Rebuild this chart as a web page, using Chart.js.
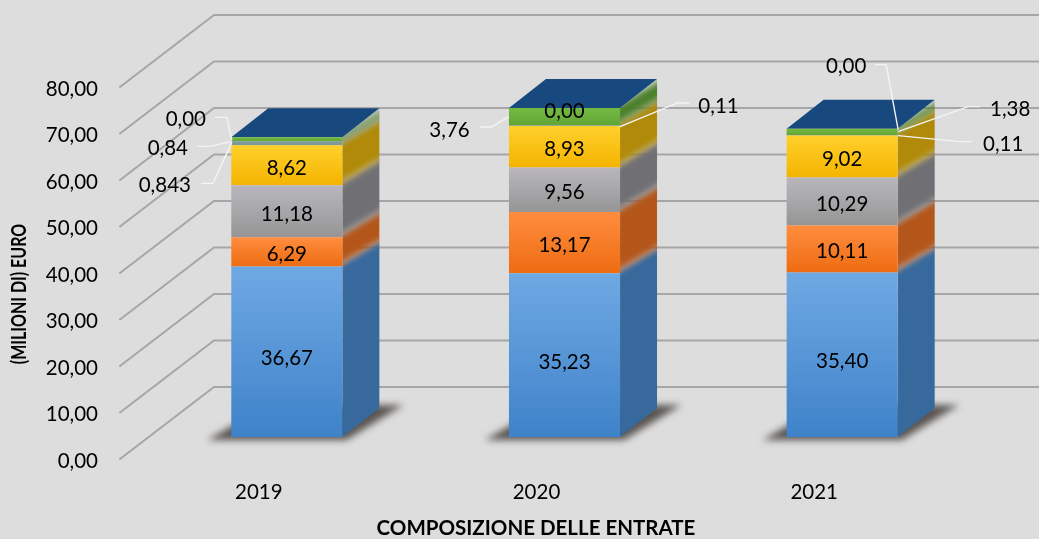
<!DOCTYPE html>
<html><head><meta charset="utf-8">
<style>html,body{margin:0;padding:0;background:#dddddd}canvas{display:block;filter:blur(0.45px)}</style>
<script src="https://cdn.jsdelivr.net/npm/chart.js@4/dist/chart.umd.min.js"></script>
</head><body><canvas id="c" width="1039" height="539"></canvas>
<script>
const categories = ['2019','2020','2021'];
const serie1 = [36.67,35.23,35.40];
const serie2 = [6.29,13.17,10.11];
const serie3 = [11.18,9.56,10.29];
const serie4 = [8.62,8.93,9.02];
const serie5 = [0.843,0.11,0.11];
const serie6 = [0.84,3.76,1.38];
const serie7 = [0,0,0];
const yTitle = '(MILIONI DI) EURO';
const xTitle = 'COMPOSIZIONE DELLE ENTRATE';

const allSeries = [serie1,serie2,serie3,serie4,serie5,serie6,serie7];
const FONT = 'Lato';
const front = [['#6fa9e4','#3f82c9'],['#ff8d3f','#ee6c12'],['#b9b7bd','#959595'],['#ffd02c','#f4b400'],['#7f9a98','#7f9a98'],['#74ba42','#62a536'],['#17497e','#17497e']];
const side = ['#37699c','#b4561a','#707074','#b08a08','#6e8a70','#4a7f2a','#17497e'];
const TOPCOL = '#17497e';
const DEPTH = {x:37,y:-29};
const WALL = {x:214,dy:-50};   // back wall relative to the bar plane
const FLOOR = {x:120,dy:22};   // front edge of the side wall
const fmt = v => v.toLocaleString('it-IT',{minimumFractionDigits:2,maximumFractionDigits:3});

// series, category: label offset and leader offsets from (bar centre, stack top)
const callouts = [
 {s:6,c:0,l:[-101,-19],p:[[-72,-20],[-60,-20],[-55,3]]},
 {s:5,c:0,l:[-119,10],p:[[-90,9],[-77,9],[-55,4]]},
 {s:4,c:0,l:[-122,47],p:[[-86,46],[-74,46],[-55,5]]},
 {s:5,c:1,l:[-115,21],p:[[-85,19],[-73,19],[-56,9]]},
 {s:6,c:1,l:[0,2],p:null},
 {s:4,c:1,l:[154,-3],p:[[125,-5],[113,-5],[55,19]]},
 {s:6,c:2,l:[4,-63],p:[[33,-64],[44,-64],[56,1]]},
 {s:5,c:2,l:[168,-20],p:[[138,-22],[126,-22],[56,3]]},
 {s:4,c:2,l:[161,15],p:[[130,13],[118,13],[56,7]]}
];

function cum(s,c){let t=0;for(let i=0;i<=s;i++)t+=allSeries[i][c];return t;}

const threeD = {
 id:'threeD',
 beforeDatasetsDraw(chart){
  const {ctx,scales:{y}}=chart;
  ctx.save();
  ctx.strokeStyle='#a7a5a5';ctx.lineCap='round';
  y.ticks.forEach(t=>{
    const p=y.getPixelForValue(t.value);
    ctx.lineWidth=2;
    ctx.beginPath();ctx.moveTo(FLOOR.x,p+FLOOR.dy);ctx.lineTo(WALL.x,p+WALL.dy);ctx.lineTo(chart.width+2,p+WALL.dy);ctx.stroke();
  });
  const base=chart.getDatasetMeta(0).data;
  categories.forEach((_,c)=>{
    const el=base[c],x1=el.x-el.width/2,x2=el.x+el.width/2,b=y.getPixelForValue(0);
    // floor shadow
    ctx.save();ctx.filter='blur(3.5px)';ctx.fillStyle='#5a5552';
    ctx.beginPath();ctx.moveTo(x1-24,b+3);ctx.lineTo(x2+4,b+3);ctx.lineTo(x2+DEPTH.x+24,b+DEPTH.y-3);ctx.lineTo(x1+DEPTH.x,b+DEPTH.y-3);ctx.closePath();ctx.fill();ctx.restore();
    // side faces
    const top=y.getPixelForValue(cum(6,c));
    ctx.save();
    ctx.beginPath();ctx.moveTo(x2,b);ctx.lineTo(x2,top);ctx.lineTo(x2+DEPTH.x,top+DEPTH.y);ctx.lineTo(x2+DEPTH.x,b+DEPTH.y);ctx.closePath();ctx.clip();
    ctx.filter='blur(3px)';
    allSeries.forEach((arr,s)=>{
      if(!arr[c])return;
      const yb=y.getPixelForValue(s?cum(s-1,c):0),yt=y.getPixelForValue(cum(s,c));
      ctx.fillStyle=side[s];
      ctx.beginPath();ctx.moveTo(x2-6,yb+(s?0:8));ctx.lineTo(x2-6,yt);ctx.lineTo(x2+DEPTH.x+6,yt+DEPTH.y);ctx.lineTo(x2+DEPTH.x+6,yb+DEPTH.y+(s?0:8));ctx.closePath();ctx.fill();
    });
    ctx.restore();
    // top face
    ctx.fillStyle=TOPCOL;
    ctx.beginPath();ctx.moveTo(x1,top);ctx.lineTo(x2,top);ctx.lineTo(x2+DEPTH.x,top+DEPTH.y);ctx.lineTo(x1+DEPTH.x,top+DEPTH.y);ctx.closePath();ctx.fill();
  });
  ctx.restore();
 },
 afterDatasetsDraw(chart){
  const {ctx,scales:{y}}=chart;
  const base=chart.getDatasetMeta(0).data;
  ctx.save();
  ctx.fillStyle='#000';ctx.font='20.5px '+FONT;ctx.textAlign='center';ctx.textBaseline='middle';
  for(let s=0;s<4;s++)categories.forEach((_,c)=>{
    const mid=(y.getPixelForValue(s?cum(s-1,c):0)+y.getPixelForValue(cum(s,c)))/2;
    ctx.fillText(fmt(allSeries[s][c]),base[c].x,mid+(s?3:7));
  });
  callouts.forEach(o=>{
    const cx=base[o.c].x,top=y.getPixelForValue(cum(6,o.c));
    if(o.p){
      ctx.strokeStyle='#f4f4f4';ctx.lineWidth=1.4;ctx.beginPath();
      o.p.forEach((q,i)=>i?ctx.lineTo(cx+q[0],top+q[1]):ctx.moveTo(cx+q[0],top+q[1]));
      ctx.stroke();
    }
    ctx.fillText(fmt(allSeries[o.s][o.c]),cx+o.l[0],top+o.l[1]+1);
  });
  // axis titles
  ctx.font='bold 20.5px '+FONT;
  ctx.fillText(xTitle,536,528);
  ctx.translate(19,294);ctx.rotate(-Math.PI/2);ctx.scale(0.78,1);
  ctx.fillText(yTitle,0,0);
  ctx.restore();
 }
};

new Chart(document.getElementById('c'),{
 type:'bar',
 data:{labels:categories,datasets:allSeries.map((arr,s)=>({
   label:'Serie '+(s+1),data:arr,stack:'a',borderWidth:0,
   backgroundColor(ctx){
     const {chart,dataIndex:c}=ctx,y=chart.scales.y;
     if(!y||!chart.chartArea)return front[s][0];
     const yt=y.getPixelForValue(cum(s,c)),yb=y.getPixelForValue(s?cum(s-1,c):0);
     const g=chart.ctx.createLinearGradient(0,yt,0,yb+0.01);
     g.addColorStop(0,front[s][0]);g.addColorStop(1,front[s][1]);return g;
   }
 }))},
 options:{
  responsive:false,animation:false,
  layout:{padding:{top:65,right:58,left:0,bottom:0}},
  datasets:{bar:{categoryPercentage:1,barPercentage:0.4}},
  plugins:{legend:{display:false},title:{display:false},tooltip:{enabled:false}},
  scales:{
   x:{stacked:true,grid:{display:false,drawTicks:false},border:{display:false},
      ticks:{color:'#000',font:{family:FONT,size:20.5},padding:43,labelOffset:-28,maxRotation:0},
      afterFit(s){s.height=102;}},
   y:{stacked:true,min:0,max:80,grid:{display:false,drawTicks:false},border:{display:false},
      ticks:{color:'#000',font:{family:FONT,size:20.5},padding:50,stepSize:10,labelOffset:24,callback:v=>v.toFixed(2).replace('.',',')},
      afterFit(s){s.width=148;}}
  }
 },
 plugins:[threeD]
});
</script></body></html>
